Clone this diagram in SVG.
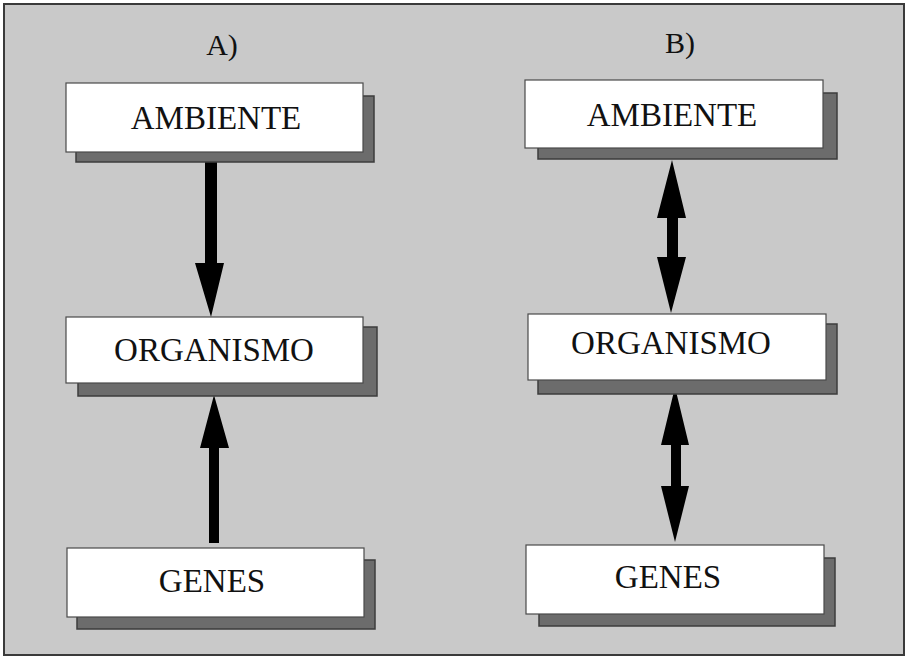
<svg xmlns="http://www.w3.org/2000/svg" width="908" height="658" viewBox="0 0 908 658">
<defs>
<style>
.bg{fill:#c9c9c9;stroke:#3a3a3a;stroke-width:2}
.sh{fill:#6c6c6c;stroke:#3c3c3c;stroke-width:1.5}
.bx{fill:#ffffff;stroke:#4a4a4a;stroke-width:1.2}
.lb{font-family:"Liberation Serif","Times New Roman",serif;font-size:33px;fill:#111;text-anchor:middle}
.tt{font-family:"Liberation Serif","Times New Roman",serif;font-size:30px;fill:#111;text-anchor:middle}
.ar{fill:#000}
</style>
</defs>
<rect class="bg" x="4" y="4" width="900" height="651"/>
<text class="tt" x="222" y="55">A)</text>
<text class="tt" x="680" y="53">B)</text>

<g id="connectors">
<path class="ar" d="M205,160 H217 V263 H224 L211,317 L195,263 H205 Z"/>
<path class="ar" d="M209,543 V448 H200 L214,395 L229,448 H219 V543 Z"/>
<path class="ar" d="M672,160 L686,218 H678 V257 H686 L671,313 L657,257 H667 V218 H657 Z"/>
<path class="ar" d="M675,387 L689,445 H681 V486 H689 L675,542 L661,486 H671 V445 H661 Z"/>
</g>

<g id="a_ambiente">
<rect class="sh" x="76" y="96" width="298" height="66"/>
<rect class="bx" x="66" y="83" width="297" height="69"/>
<text class="lb" x="216" y="129">AMBIENTE</text>
</g>
<g id="a_organismo">
<rect class="sh" x="78" y="327" width="299" height="69"/>
<rect class="bx" x="66" y="317" width="297" height="66"/>
<text class="lb" x="214" y="361">ORGANISMO</text>
</g>
<g id="a_genes">
<rect class="sh" x="77" y="560" width="298" height="69"/>
<rect class="bx" x="67" y="548" width="297" height="69"/>
<text class="lb" x="212" y="592">GENES</text>
</g>

<g id="b_ambiente">
<rect class="sh" x="538" y="93" width="299" height="66"/>
<rect class="bx" x="525" y="80" width="298" height="68"/>
<text class="lb" x="672" y="126">AMBIENTE</text>
</g>
<g id="b_organismo">
<rect class="sh" x="538" y="324" width="299" height="70"/>
<rect class="bx" x="528" y="314" width="298" height="66"/>
<text class="lb" x="671" y="354">ORGANISMO</text>
</g>
<g id="b_genes">
<rect class="sh" x="539" y="558" width="296" height="68"/>
<rect class="bx" x="526" y="545" width="298" height="69"/>
<text class="lb" x="668" y="588">GENES</text>
</g>
</svg>
